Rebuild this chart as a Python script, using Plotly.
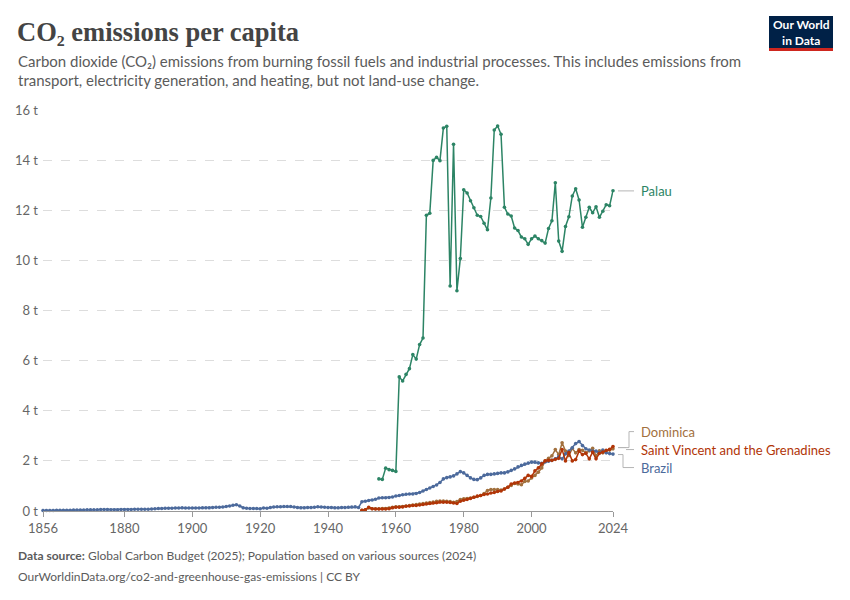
import plotly.graph_objects as go

# ---------------- data (tonnes CO2 per person) ----------------
brazil_years = list(range(1856, 2025))
brazil = [
    0.02, 0.02, 0.02, 0.02, 0.03, 0.03, 0.03, 0.03, 0.03, 0.04, 0.04, 0.04, 0.04, 0.05,
    0.05, 0.05, 0.05, 0.06, 0.06, 0.06, 0.05, 0.05, 0.05, 0.06,
    0.06, 0.06, 0.06, 0.07, 0.07, 0.07, 0.07, 0.07, 0.08, 0.09,
    0.10, 0.10, 0.11, 0.11, 0.11, 0.12, 0.12, 0.13, 0.12, 0.12,
    0.12, 0.12, 0.12, 0.13, 0.13, 0.13, 0.14, 0.15, 0.15, 0.16,
    0.18, 0.20, 0.23, 0.25, 0.20, 0.13, 0.11, 0.10, 0.10, 0.10,
    0.09, 0.12, 0.11, 0.14, 0.16, 0.17, 0.17, 0.18, 0.18, 0.18,
    0.16, 0.14, 0.13, 0.13, 0.14, 0.14, 0.15, 0.17, 0.16, 0.15,
    0.14, 0.14, 0.13, 0.13, 0.14, 0.14, 0.15, 0.16, 0.17, 0.14,
    0.37, 0.39, 0.42, 0.44, 0.47, 0.52, 0.53, 0.53, 0.54, 0.56,
    0.60, 0.62, 0.65, 0.67, 0.68, 0.68, 0.70, 0.74, 0.80, 0.86,
    0.92, 0.98, 1.04, 1.14, 1.28, 1.33, 1.36, 1.40, 1.48, 1.57,
    1.52, 1.42, 1.32, 1.26, 1.25, 1.32, 1.42, 1.46, 1.46, 1.48,
    1.50, 1.52, 1.52, 1.56, 1.62, 1.68, 1.76, 1.82, 1.87, 1.91,
    1.95, 1.95, 1.92, 1.90, 1.96, 1.99, 2.02, 2.08, 2.16, 2.08,
    2.28, 2.39, 2.52, 2.69, 2.77, 2.61, 2.48, 2.43, 2.39, 2.39,
    2.32, 2.43, 2.32, 2.29, 2.27,
]

palau_years = list(range(1955, 2025))
palau = [
    1.28, 1.26, 1.71, 1.65, 1.62, 1.58, 5.35, 5.19, 5.45, 5.68,
    6.24, 6.06, 6.64, 6.90, 11.80, 11.88, 13.99, 14.11, 13.98, 15.28,
    15.35, 8.98, 14.63, 8.79, 10.07, 12.82, 12.69, 12.38, 12.10, 11.80,
    11.75, 11.48, 11.22, 12.49, 15.20, 15.36, 15.03, 12.12, 11.85, 11.77,
    11.29, 11.19, 10.93, 10.86, 10.64, 10.86, 10.97, 10.86, 10.79, 10.69,
    11.27, 11.58, 13.10, 10.77, 10.36, 11.35, 11.74, 12.57, 12.86, 12.41,
    11.32, 11.72, 12.12, 11.90, 12.14, 11.72, 11.96, 12.22, 12.18, 12.78,
]

caribbean_years = list(range(1950, 2025))
svg = [
    0.03, 0.05, 0.15, 0.09, 0.08, 0.08, 0.08, 0.08, 0.09, 0.13,
    0.15, 0.15, 0.16, 0.19, 0.20, 0.22, 0.22, 0.24, 0.26, 0.28,
    0.30, 0.32, 0.33, 0.36, 0.35, 0.35, 0.34, 0.32, 0.30, 0.39,
    0.43, 0.46, 0.50, 0.55, 0.60, 0.62, 0.66, 0.68, 0.72, 0.74,
    0.78, 0.80, 0.88, 0.95, 1.08, 1.12, 1.14, 1.20, 1.30, 1.42,
    1.38, 1.60, 1.72, 1.88, 2.00, 2.02, 2.02, 2.06, 2.10, 2.45,
    2.00, 2.33, 2.00, 2.05, 2.39, 2.25, 2.30, 2.08, 2.35, 2.08,
    2.30, 2.35, 2.42, 2.46, 2.57,
]
dominica = [
    0.03, 0.05, 0.12, 0.09, 0.09, 0.09, 0.10, 0.10, 0.12, 0.15,
    0.17, 0.17, 0.18, 0.20, 0.22, 0.24, 0.26, 0.28, 0.30, 0.32,
    0.34, 0.36, 0.39, 0.40, 0.40, 0.39, 0.38, 0.35, 0.38, 0.46,
    0.49, 0.50, 0.52, 0.55, 0.58, 0.62, 0.70, 0.82, 0.86, 0.86,
    0.86, 0.84, 0.88, 0.95, 1.02, 1.10, 1.08, 1.05, 1.18, 1.20,
    1.32, 1.42, 1.55, 1.72, 1.99, 2.10, 2.20, 2.45, 2.25, 2.72,
    2.39, 2.21, 2.50, 2.32, 2.45, 2.42, 2.32, 2.40, 2.50, 2.20,
    2.40, 2.32, 2.40, 2.43, 2.48,
]

x_tickvals = [1856, 1880, 1900, 1920, 1940, 1960, 1980, 2000, 2024]
y_tickvals = [0, 2, 4, 6, 8, 10, 12, 14, 16]
y_ticktext = [f"{v} t" for v in y_tickvals]

C_PALAU = "#2C8465"
C_BRAZIL = "#4C6A9C"
C_SVG = "#B13507"
C_DOM = "#A2703D"

# ---------------- layout geometry (pixels) ----------------
W, H = 850, 600
PL, PR, PT, PB = 43, 613, 110, 511.5


def px(xp):
    return (xp - PL) / (PR - PL)


def py(yp):
    return (PB - yp) / (PB - PT)


fig = go.Figure()

series = [
    ("Dominica", caribbean_years, dominica, C_DOM),
    ("Brazil", brazil_years, brazil, C_BRAZIL),
    ("Saint Vincent and the Grenadines", caribbean_years, svg, C_SVG),
    ("Palau", palau_years, palau, C_PALAU),
]
for name, xs, ys, col in series:
    fig.add_trace(go.Scatter(
        x=xs, y=ys, name=name, mode="lines+markers",
        line=dict(color=col, width=1.5),
        marker=dict(color=col, size=3.6),
        cliponaxis=False, hoverinfo="skip",
    ))

fig.update_layout(
    width=W, height=H,
    margin=dict(l=PL, r=W - PR, t=PT, b=H - PB),
    plot_bgcolor="white", paper_bgcolor="white",
    showlegend=False,
    font=dict(family="Lato", color="#666666", size=13),
    hovermode=False,
)

fig.update_xaxes(
    range=[1856, 2024], tickvals=x_tickvals,
    showgrid=False, zeroline=False,
    showline=True, linecolor="#999999", linewidth=1,
    ticks="outside", ticklen=5, tickcolor="#999999",
    tickfont=dict(size=13, color="#666666"),
)
fig.update_yaxes(
    range=[0, 16], tickvals=y_tickvals, ticktext=y_ticktext,
    showgrid=True, gridcolor="#dddddd", griddash="dash", gridwidth=1,
    zeroline=False, showline=False, ticks="",
    tickfont=dict(size=13, color="#666666"),
    ticklabelstandoff=4,
)

ann = []


def text_line(text, x, y, size, color, family="Lato"):
    ann.append(dict(
        text=text, x=px(x), y=py(y), xref="paper", yref="paper",
        xanchor="left", yanchor="middle", showarrow=False, align="left",
        font=dict(family=family, size=size, color=color),
    ))


# title
text_line("<b>CO₂ emissions per capita</b>", 15, 32, 26.5, "#444444", "Liberation Serif")
# subtitle
text_line("Carbon dioxide (CO₂) emissions from burning fossil fuels and industrial processes. "
          "This includes emissions from", 16, 61, 15, "#5b5b5b")
text_line("transport, electricity generation, and heating, but not land-use change.",
          16, 80, 15, "#5b5b5b")
# footer
text_line("<b>Data source:</b> Global Carbon Budget (2025); Population based on various sources (2024)",
          16, 556, 12, "#5b5b5b")
text_line("OurWorldinData.org/co2-and-greenhouse-gas-emissions | CC BY", 16, 577, 12, "#5b5b5b")

# logo text
ann.append(dict(
    text="<b>Our World<br>in Data</b>", x=px(801), y=py(32),
    xref="paper", yref="paper", xanchor="center", yanchor="middle",
    showarrow=False, align="center",
    font=dict(family="Lato", size=12, color="white"),
))

# series labels
labels = [
    ("Palau", 191, C_PALAU),
    ("Dominica", 432, C_DOM),
    ("Saint Vincent and the Grenadines", 450, C_SVG),
    ("Brazil", 468, C_BRAZIL),
]
for text, yy, col in labels:
    text_line(text, 639, yy, 13, col)

shapes = []
# logo box
shapes.append(dict(type="rect", xref="paper", yref="paper",
                   x0=px(769), x1=px(833), y0=py(48), y1=py(16),
                   fillcolor="#002147", line=dict(width=0), layer="above"))
shapes.append(dict(type="rect", xref="paper", yref="paper",
                   x0=px(769), x1=px(833), y0=py(51), y1=py(48),
                   fillcolor="#CE261E", line=dict(width=0), layer="above"))

conn = dict(color="#b5b5b5", width=1)


def seg(x0, y0, x1, y1):
    shapes.append(dict(type="line", xref="paper", yref="paper",
                       x0=px(x0), y0=py(y0), x1=px(x1), y1=py(y1), line=conn))


# Palau connector
seg(618, 191, 634, 191)
# Dominica connector (bracket up)
seg(618, 448, 629, 448)
seg(629, 448, 629, 432)
seg(629, 432, 634, 432)
# SVG connector
seg(618, 448, 626, 448)
seg(626, 450, 634, 450)
# Brazil connector (bracket down)
seg(618, 455, 623, 455)
seg(623, 455, 623, 468)
seg(623, 468, 634, 468)

fig.update_layout(annotations=ann, shapes=shapes)

fig.write_html(
    "out.html",
    config={"displayModeBar": False, "staticPlot": True},
    post_script="document.body.style.margin='0';document.body.style.overflow='hidden';",
)
